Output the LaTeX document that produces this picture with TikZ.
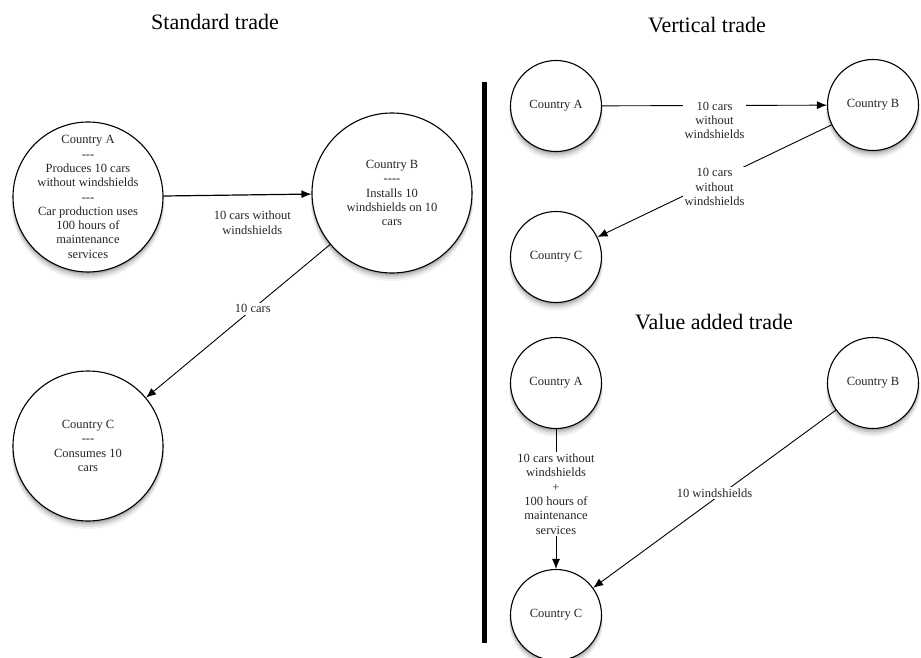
\documentclass[tikz,border=0pt]{standalone}
\usepackage{fontspec}
\setmainfont{Liberation Serif}
\usetikzlibrary{arrows.meta}
\newcommand\circshadow[3]{%
  \fill[black,opacity=0.05] (#1,#2+6.5) circle (#3pt+1.5pt);
  \fill[black,opacity=0.07] (#1,#2+5) circle (#3pt+1pt);
  \fill[black,opacity=0.10] (#1,#2+3.5) circle (#3pt+0.5pt);
  \fill[black,opacity=0.15] (#1,#2+2) circle (#3pt);
}
\begin{document}
\begin{tikzpicture}[x=1pt,y=-1pt,
  circ/.style={circle,draw,line width=1.1pt,fill=white,inner sep=0pt},
  big/.style={circ,minimum size=150pt},
  bigb/.style={circ,minimum size=160pt},
  small/.style={circ,minimum size=91pt},
  txt/.style={font=\fontsize{12.5}{14.3}\selectfont,align=center,text=black!85},
  lbl/.style={txt,inner sep=1.5pt},
  title/.style={font=\fontsize{22}{26}\selectfont},
  arr/.style={-{Latex[length=10pt,width=8pt]},line width=0.9pt},
  arrthick/.style={arr,line width=1.2pt},
]
\useasboundingbox (0,0) rectangle (921,658);

% titles
\node[title] (t1) at (215,22) {Standard trade};
\node[title] (t2) at (707,25) {Vertical trade};
\node[title] (t3) at (714,322) {Value added trade};

% separator
\draw[line width=5pt] (484.5,82) -- (484.5,643);

% shadows
\circshadow{88}{197}{75}
\circshadow{392}{193}{80}
\circshadow{88}{446}{75}
\circshadow{556}{106}{45.5}
\circshadow{873}{105}{45.5}
\circshadow{556}{257}{45.5}
\circshadow{556}{383}{45.5}
\circshadow{873}{383}{45.5}
\circshadow{556}{615}{45.5}

% ---- Standard trade
\node[big] (SA) at (88,197) {};
\node[txt] at (SA.center) {Country A\\-{}-{}-\\Produces 10 cars\\without windshields\\-{}-{}-\\Car production uses\\100 hours of\\maintenance\\services};
\node[bigb] (SB) at (392,193) {};
\node[txt] at (SB.center) {Country B\\-{}-{}-{}-\\Installs 10\\windshields on 10\\cars};
\node[big] (SC) at (88,446) {};
\node[txt] at (SC.center) {Country C\\-{}-{}-\\Consumes 10\\cars};

\draw[arrthick] (SA) -- node[lbl,pos=0.6,yshift=-28pt] {10 cars without\\windshields} (SB);
\draw[arr] (SB) -- node[lbl,pos=0.42,fill=white] {10 cars} (SC);

% ---- Vertical trade
\node[small] (VA) at (556,106) {};
\node[txt] at (VA.center) {Country A};
\node[small] (VB) at (873,105) {};
\node[txt] at (VB.center) {Country B};
\node[small] (VC) at (556,257) {};
\node[txt] at (VC.center) {Country C};

\draw[arr] (VA) -- node[lbl,midway,yshift=-15pt,fill=white] {10 cars\\without\\windshields} (VB);
\draw[arr] (VB) -- node[lbl,midway,yshift=-6pt,fill=white] {10 cars\\without\\windshields} (VC);

% ---- Value added trade
\node[small] (AA) at (556,383) {};
\node[txt] at (AA.center) {Country A};
\node[small] (AB) at (873,383) {};
\node[txt] at (AB.center) {Country B};
\node[small] (AC) at (556,615) {};
\node[txt] at (AC.center) {Country C};

\draw[arr] (AA) -- node[lbl,pos=0.465,fill=white] {10 cars without\\windshields\\+\\100 hours of\\maintenance\\services} (AC);
\draw[arr] (AB) -- node[lbl,midway,yshift=6pt,fill=white] {10 windshields} (AC);
\end{tikzpicture}
\end{document}
